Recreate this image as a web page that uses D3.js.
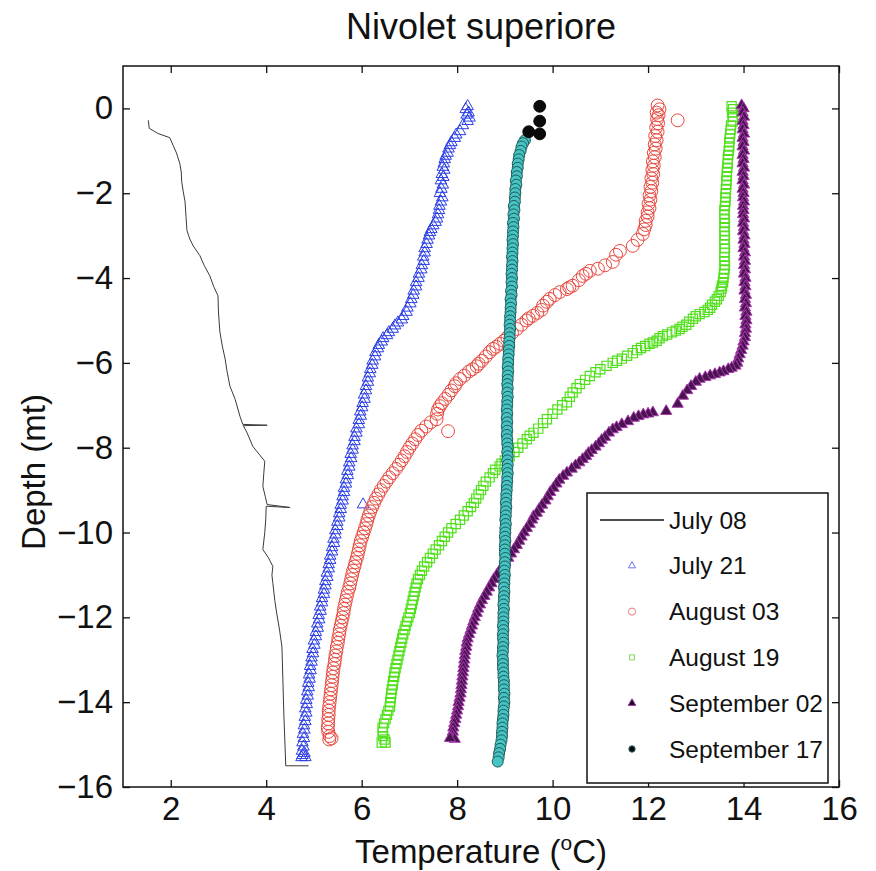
<!DOCTYPE html>
<html>
<head>
<meta charset="utf-8">
<script src="https://cdn.jsdelivr.net/npm/d3@7"></script>
<style>
  body { margin: 0; background: #fff; }
  text { font-family: "Liberation Sans", Arial, sans-serif; fill: #111; }
</style>
</head>
<body>
<script>
// Nivolet superiore - temperature profiles, each point is [temperature, depth]
var xTicks = [2, 4, 6, 8, 10, 12, 14, 16];
var yTicks = [0, -2, -4, -6, -8, -10, -12, -14, -16];
var legendLabels = ["July 08", "July 21", "August 03", "August 19", "September 02", "September 17"];

var july08 = [[1.53,-0.28],[1.55,-0.47],[1.73,-0.59],[1.98,-0.69],[2.05,-0.87],[2.12,-1.05],[2.19,-1.3],[2.22,-1.5],
  [2.23,-1.73],[2.26,-1.95],[2.3,-2.2],[2.32,-2.55],[2.34,-2.88],[2.4,-3.08],[2.47,-3.24],[2.61,-3.47],[2.7,-3.7],
  [2.82,-3.95],[2.9,-4.2],[2.99,-4.42],[3.0,-4.8],[3.03,-5.27],[3.08,-5.6],[3.14,-5.91],[3.18,-6.2],[3.24,-6.55],
  [3.35,-6.86],[3.45,-7.26],[3.51,-7.45],[4.02,-7.47],[3.52,-7.48],[3.6,-7.65],[3.72,-7.97],[3.85,-8.15],[3.97,-8.32],
  [3.95,-8.6],[3.93,-8.91],[3.98,-9.15],[4.02,-9.34],[4.5,-9.41],[4.0,-9.38],[3.99,-9.7],[3.97,-10.0],[3.93,-10.4],
  [4.05,-10.6],[4.14,-10.8],[4.12,-11.0],[4.14,-11.2],[4.18,-11.6],[4.22,-11.9],[4.28,-12.3],[4.33,-12.7],
  [4.35,-13.5],[4.37,-14.3],[4.41,-15.5],[4.89,-15.5]];

var july21 = [[8.22,0.05],[8.18,-0.02],[8.24,-0.1],[8.2,-0.15],[8.26,-0.22],[8.22,-0.3],[8.12,-0.4],[8.06,-0.54],
  [7.98,-0.62],[7.95,-0.7],[7.88,-0.8],[7.85,-0.87],[7.82,-0.95],[7.8,-1.05],[7.76,-1.12],[7.74,-1.2],[7.72,-1.3],
  [7.7,-1.38],[7.73,-1.45],[7.68,-1.55],[7.71,-1.62],[7.66,-1.7],[7.7,-1.8],[7.67,-1.9],[7.64,-2.0],[7.69,-2.1],
  [7.66,-2.2],[7.63,-2.3],[7.62,-2.4],[7.6,-2.5],[7.58,-2.6],[7.55,-2.68],[7.5,-2.76],[7.46,-2.85],[7.43,-2.92],
  [7.41,-3.0],[7.38,-3.1],[7.36,-3.2],[7.32,-3.3],[7.32,-3.4],[7.29,-3.5],[7.3,-3.6],[7.26,-3.7],[7.25,-3.8],
  [7.2,-3.9],[7.19,-4.0],[7.14,-4.1],[7.14,-4.2],[7.09,-4.3],[7.08,-4.4],[7.04,-4.5],[7.02,-4.6],[6.96,-4.7],
  [6.94,-4.8],[6.87,-4.9],[6.84,-4.98],[6.76,-5.05],[6.7,-5.12],[6.65,-5.2],[6.57,-5.28],[6.53,-5.35],[6.45,-5.42],
  [6.42,-5.5],[6.36,-5.58],[6.34,-5.66],[6.29,-5.75],[6.28,-5.85],[6.23,-5.95],[6.22,-6.05],[6.18,-6.15],
  [6.17,-6.25],[6.13,-6.35],[6.13,-6.45],[6.09,-6.55],[6.09,-6.65],[6.05,-6.75],[6.06,-6.85],[6.02,-6.95],
  [6.01,-7.05],[5.97,-7.15],[5.98,-7.25],[5.94,-7.35],[5.94,-7.45],[5.89,-7.55],[5.89,-7.65],[5.85,-7.75],
  [5.85,-7.85],[5.81,-7.95],[5.81,-8.05],[5.77,-8.15],[5.78,-8.25],[5.74,-8.35],[5.74,-8.45],[5.7,-8.55],
  [5.71,-8.65],[5.67,-8.75],[5.67,-8.85],[5.63,-8.95],[5.63,-9.05],[5.6,-9.15],[5.6,-9.25],[5.56,-9.35],
  [6.03,-9.34],[5.56,-9.45],[5.53,-9.55],[5.53,-9.65],[5.49,-9.75],[5.49,-9.85],[5.45,-9.95],[5.45,-10.05],
  [5.41,-10.15],[5.42,-10.25],[5.38,-10.35],[5.38,-10.45],[5.34,-10.55],[5.34,-10.65],[5.31,-10.75],[5.31,-10.85],
  [5.27,-10.95],[5.28,-11.05],[5.24,-11.15],[5.24,-11.25],[5.21,-11.35],[5.21,-11.45],[5.17,-11.55],[5.17,-11.65],
  [5.13,-11.75],[5.14,-11.85],[5.1,-11.95],[5.11,-12.05],[5.07,-12.15],[5.08,-12.25],[5.04,-12.35],[5.04,-12.45],
  [5.0,-12.55],[5.01,-12.65],[4.97,-12.75],[4.98,-12.85],[4.95,-12.95],[4.95,-13.05],[4.92,-13.15],[4.93,-13.25],
  [4.9,-13.35],[4.91,-13.45],[4.88,-13.55],[4.89,-13.65],[4.86,-13.75],[4.87,-13.85],[4.84,-13.95],[4.85,-14.05],
  [4.82,-14.15],[4.84,-14.25],[4.81,-14.35],[4.82,-14.45],[4.79,-14.55],[4.8,-14.65],[4.77,-14.75],[4.79,-14.85],
  [4.76,-14.95],[4.78,-15.05],[4.75,-15.15],[4.8,-15.2],[4.76,-15.25],[4.82,-15.3],[4.74,-15.3]];

var aug03 = [[12.2,0.07],[12.24,-0.02],[12.18,-0.1],[12.22,-0.16],[12.62,-0.28],[12.19,-0.25],[12.21,-0.35],
  [12.17,-0.45],[12.2,-0.55],[12.15,-0.65],[12.18,-0.75],[12.14,-0.85],[12.16,-0.95],[12.12,-1.05],[12.14,-1.15],
  [12.1,-1.25],[12.12,-1.35],[12.09,-1.45],[12.11,-1.55],[12.07,-1.65],[12.09,-1.75],[12.05,-1.85],[12.07,-1.95],
  [12.03,-2.05],[12.05,-2.15],[12.01,-2.25],[12.03,-2.35],[11.99,-2.45],[11.99,-2.55],[11.95,-2.65],[11.95,-2.75],
  [11.92,-2.85],[11.89,-2.96],[11.78,-3.1],[11.68,-3.24],[11.41,-3.36],[11.33,-3.45],[11.26,-3.62],[11.1,-3.7],
  [10.95,-3.78],[10.78,-3.83],[10.7,-3.9],[10.63,-3.95],[10.55,-4.05],[10.42,-4.18],[10.35,-4.22],[10.3,-4.26],
  [10.15,-4.33],[10.05,-4.4],[9.94,-4.49],[9.88,-4.56],[9.8,-4.65],[9.77,-4.75],[9.68,-4.82],[9.59,-4.89],
  [9.5,-4.95],[9.45,-5.0],[9.35,-5.1],[9.25,-5.2],[9.15,-5.3],[9.05,-5.4],[8.98,-5.48],[8.9,-5.55],[8.82,-5.62],
  [8.75,-5.67],[8.68,-5.75],[8.6,-5.85],[8.52,-5.95],[8.45,-6.02],[8.41,-6.08],[8.32,-6.15],[8.25,-6.2],
  [8.15,-6.3],[8.06,-6.38],[7.98,-6.48],[7.95,-6.55],[7.88,-6.65],[7.82,-6.75],[7.75,-6.85],[7.68,-6.95],
  [7.64,-7.02],[7.6,-7.1],[7.58,-7.2],[7.57,-7.33],[7.81,-7.61],[7.45,-7.4],[7.35,-7.5],[7.25,-7.6],[7.18,-7.7],
  [7.12,-7.8],[7.06,-7.9],[7.0,-8.0],[6.95,-8.1],[6.9,-8.2],[6.84,-8.3],[6.78,-8.4],[6.72,-8.5],[6.65,-8.6],
  [6.58,-8.7],[6.52,-8.8],[6.46,-8.9],[6.4,-9.0],[6.35,-9.1],[6.3,-9.2],[6.26,-9.3],[6.22,-9.4],[6.18,-9.5],
  [6.15,-9.6],[6.12,-9.7],[6.1,-9.8],[6.07,-9.9],[6.04,-10.0],[6.01,-10.1],[5.98,-10.2],[5.96,-10.3],[5.94,-10.4],
  [5.92,-10.5],[5.9,-10.6],[5.87,-10.7],[5.85,-10.8],[5.82,-10.9],[5.8,-11.0],[5.78,-11.1],[5.76,-11.2],
  [5.74,-11.3],[5.71,-11.4],[5.69,-11.5],[5.67,-11.6],[5.65,-11.7],[5.63,-11.8],[5.62,-11.9],[5.6,-12.0],
  [5.58,-12.1],[5.56,-12.2],[5.54,-12.3],[5.53,-12.4],[5.51,-12.5],[5.5,-12.6],[5.48,-12.7],[5.47,-12.8],
  [5.45,-12.9],[5.44,-13.0],[5.43,-13.1],[5.41,-13.2],[5.4,-13.3],[5.39,-13.4],[5.38,-13.5],[5.37,-13.6],
  [5.36,-13.7],[5.35,-13.8],[5.34,-13.9],[5.33,-14.0],[5.32,-14.1],[5.31,-14.2],[5.31,-14.3],[5.3,-14.4],
  [5.3,-14.5],[5.29,-14.6],[5.3,-14.7],[5.33,-14.8],[5.37,-14.85],[5.32,-14.88]];

var aug19 = [[13.75,0.05],[13.78,-0.02],[13.76,-0.1],[13.78,-0.2],[13.77,-0.31],[13.74,-0.4],[13.73,-0.5],
  [13.72,-0.6],[13.71,-0.71],[13.7,-0.8],[13.7,-0.9],[13.69,-1.0],[13.68,-1.1],[13.67,-1.2],[13.67,-1.3],
  [13.66,-1.4],[13.65,-1.5],[13.65,-1.6],[13.64,-1.7],[13.64,-1.8],[13.63,-1.9],[13.63,-2.0],[13.62,-2.1],
  [13.62,-2.2],[13.61,-2.3],[13.6,-2.4],[13.6,-2.5],[13.6,-2.6],[13.61,-2.7],[13.6,-2.8],[13.6,-2.9],[13.61,-3.0],
  [13.6,-3.1],[13.6,-3.2],[13.61,-3.3],[13.6,-3.4],[13.6,-3.5],[13.6,-3.6],[13.61,-3.7],[13.6,-3.8],[13.59,-3.9],
  [13.58,-4.0],[13.57,-4.1],[13.55,-4.18],[13.54,-4.25],[13.52,-4.33],[13.48,-4.42],[13.44,-4.5],[13.4,-4.56],
  [13.34,-4.63],[13.3,-4.7],[13.25,-4.75],[13.18,-4.8],[13.08,-4.85],[13.0,-4.9],[12.94,-4.96],[12.86,-5.03],
  [12.8,-5.1],[12.72,-5.15],[12.66,-5.2],[12.58,-5.24],[12.5,-5.28],[12.4,-5.33],[12.31,-5.37],[12.24,-5.42],
  [12.18,-5.48],[12.1,-5.52],[12.03,-5.55],[11.94,-5.6],[11.85,-5.65],[11.77,-5.7],[11.68,-5.77],[11.56,-5.83],
  [11.45,-5.9],[11.35,-5.95],[11.26,-6.0],[11.13,-6.07],[11.0,-6.15],[10.9,-6.22],[10.78,-6.31],[10.68,-6.4],
  [10.57,-6.5],[10.5,-6.6],[10.42,-6.7],[10.36,-6.8],[10.3,-6.93],[10.2,-7.0],[10.1,-7.1],[10.0,-7.2],[9.88,-7.33],
  [9.8,-7.42],[9.7,-7.55],[9.6,-7.65],[9.52,-7.72],[9.46,-7.8],[9.37,-7.9],[9.28,-8.0],[9.2,-8.1],[9.1,-8.2],
  [9.0,-8.3],[8.93,-8.38],[8.89,-8.44],[8.8,-8.52],[8.75,-8.6],[8.68,-8.7],[8.6,-8.8],[8.55,-8.9],[8.5,-9.0],
  [8.45,-9.1],[8.4,-9.2],[8.35,-9.3],[8.29,-9.4],[8.22,-9.5],[8.14,-9.6],[8.06,-9.7],[7.97,-9.8],[7.88,-9.9],
  [7.81,-10.0],[7.74,-10.1],[7.68,-10.2],[7.62,-10.3],[7.55,-10.4],[7.49,-10.5],[7.43,-10.6],[7.37,-10.7],
  [7.31,-10.8],[7.26,-10.9],[7.22,-11.0],[7.18,-11.1],[7.15,-11.2],[7.13,-11.3],[7.11,-11.4],[7.09,-11.5],
  [7.07,-11.6],[7.05,-11.7],[7.03,-11.8],[7.01,-11.9],[6.98,-12.0],[6.95,-12.1],[6.92,-12.2],[6.9,-12.3],
  [6.87,-12.4],[6.85,-12.5],[6.83,-12.6],[6.81,-12.7],[6.79,-12.8],[6.77,-12.9],[6.75,-13.0],[6.73,-13.1],
  [6.71,-13.2],[6.69,-13.3],[6.68,-13.4],[6.66,-13.5],[6.65,-13.6],[6.63,-13.7],[6.62,-13.8],[6.61,-13.9],
  [6.6,-14.0],[6.59,-14.1],[6.56,-14.2],[6.53,-14.3],[6.5,-14.4],[6.47,-14.5],[6.44,-14.6],[6.44,-14.7],
  [6.45,-14.8],[6.48,-14.88],[6.5,-14.95],[6.42,-14.95]];

var sep02 = [[13.96,0.07],[14.0,0.0],[13.98,-0.1],[14.01,-0.2],[13.98,-0.3],[14.0,-0.4],[13.98,-0.5],[14.01,-0.6],
  [13.98,-0.7],[14.0,-0.8],[13.98,-0.9],[14.01,-1.0],[13.98,-1.1],[14.0,-1.2],[13.98,-1.3],[14.01,-1.4],
  [13.98,-1.5],[14.0,-1.6],[13.98,-1.7],[14.01,-1.8],[13.98,-1.9],[14.0,-2.0],[13.99,-2.1],[14.01,-2.2],
  [13.99,-2.3],[14.0,-2.4],[13.99,-2.5],[14.01,-2.6],[13.99,-2.7],[14.01,-2.8],[13.99,-2.9],[14.02,-3.0],
  [14.0,-3.1],[14.02,-3.2],[14.0,-3.3],[14.03,-3.4],[14.01,-3.5],[14.03,-3.6],[14.01,-3.7],[14.03,-3.8],
  [14.01,-3.9],[14.04,-4.0],[14.02,-4.1],[14.04,-4.2],[14.02,-4.3],[14.05,-4.4],[14.03,-4.5],[14.05,-4.6],
  [14.03,-4.7],[14.06,-4.8],[14.04,-4.9],[14.06,-5.0],[14.04,-5.1],[14.05,-5.2],[14.03,-5.3],[14.03,-5.4],
  [14.0,-5.5],[13.98,-5.6],[13.95,-5.7],[13.92,-5.8],[13.89,-5.9],[13.87,-6.0],[13.83,-6.07],[13.75,-6.12],
  [13.68,-6.15],[13.58,-6.2],[13.5,-6.23],[13.4,-6.27],[13.3,-6.3],[13.2,-6.34],[13.08,-6.38],[13.0,-6.45],
  [12.9,-6.55],[12.82,-6.65],[12.73,-6.78],[12.62,-6.97],[12.38,-7.14],[12.1,-7.17],[12.0,-7.2],[11.9,-7.22],
  [11.8,-7.26],[11.7,-7.3],[11.58,-7.38],[11.45,-7.45],[11.34,-7.52],[11.26,-7.57],[11.18,-7.65],[11.1,-7.75],
  [11.03,-7.82],[10.97,-7.9],[10.9,-7.98],[10.82,-8.06],[10.75,-8.13],[10.7,-8.2],[10.63,-8.27],[10.56,-8.35],
  [10.48,-8.42],[10.4,-8.5],[10.3,-8.59],[10.22,-8.67],[10.14,-8.76],[10.08,-8.85],[10.02,-8.95],[9.95,-9.05],
  [9.9,-9.15],[9.85,-9.25],[9.78,-9.35],[9.72,-9.45],[9.67,-9.54],[9.6,-9.62],[9.57,-9.7],[9.52,-9.8],
  [9.46,-9.9],[9.4,-10.0],[9.35,-10.1],[9.3,-10.2],[9.25,-10.3],[9.19,-10.4],[9.13,-10.5],[9.07,-10.6],
  [9.01,-10.7],[8.95,-10.8],[8.89,-10.9],[8.83,-11.0],[8.77,-11.1],[8.72,-11.2],[8.67,-11.3],[8.62,-11.4],
  [8.57,-11.5],[8.52,-11.6],[8.48,-11.7],[8.44,-11.8],[8.41,-11.9],[8.37,-12.0],[8.34,-12.1],[8.31,-12.2],
  [8.28,-12.3],[8.25,-12.4],[8.22,-12.5],[8.2,-12.6],[8.19,-12.7],[8.17,-12.8],[8.16,-12.9],[8.15,-13.0],
  [8.14,-13.1],[8.13,-13.2],[8.12,-13.3],[8.11,-13.4],[8.1,-13.5],[8.09,-13.6],[8.08,-13.7],[8.07,-13.8],
  [8.05,-13.9],[8.03,-14.0],[8.02,-14.1],[8.0,-14.2],[7.98,-14.3],[7.96,-14.4],[7.94,-14.5],[7.92,-14.6],
  [7.91,-14.7],[7.9,-14.8],[7.88,-14.85],[7.95,-14.87],[7.85,-14.85]];

var sep17Top = [[9.73,0.05],[9.73,-0.3],[9.5,-0.55],[9.73,-0.6]];
var sep17 = [[9.42,-0.75],[9.38,-0.82],[9.35,-0.9],[9.33,-1.0],[9.3,-1.1],[9.29,-1.2],[9.27,-1.3],[9.27,-1.4],
  [9.25,-1.5],[9.25,-1.6],[9.23,-1.7],[9.24,-1.8],[9.22,-1.9],[9.22,-2.0],[9.21,-2.1],[9.21,-2.2],[9.19,-2.3],
  [9.2,-2.4],[9.18,-2.5],[9.19,-2.6],[9.17,-2.7],[9.18,-2.8],[9.17,-2.9],[9.17,-3.0],[9.16,-3.1],[9.17,-3.2],
  [9.16,-3.3],[9.16,-3.4],[9.15,-3.5],[9.16,-3.6],[9.15,-3.7],[9.15,-3.8],[9.14,-3.9],[9.15,-4.0],[9.14,-4.1],
  [9.15,-4.2],[9.13,-4.3],[9.14,-4.4],[9.12,-4.5],[9.13,-4.6],[9.12,-4.7],[9.12,-4.8],[9.11,-4.9],[9.11,-5.0],
  [9.1,-5.1],[9.11,-5.2],[9.1,-5.3],[9.1,-5.4],[9.09,-5.5],[9.09,-5.6],[9.08,-5.7],[9.08,-5.8],[9.07,-5.9],
  [9.07,-6.0],[9.06,-6.1],[9.07,-6.2],[9.06,-6.3],[9.06,-6.4],[9.05,-6.5],[9.06,-6.6],[9.05,-6.7],[9.06,-6.8],
  [9.05,-6.9],[9.05,-7.0],[9.04,-7.1],[9.05,-7.2],[9.04,-7.3],[9.05,-7.4],[9.04,-7.5],[9.05,-7.6],[9.04,-7.7],
  [9.05,-7.8],[9.05,-7.9],[9.06,-8.0],[9.05,-8.1],[9.06,-8.2],[9.05,-8.3],[9.06,-8.4],[9.05,-8.5],[9.06,-8.6],
  [9.05,-8.7],[9.05,-8.8],[9.04,-8.9],[9.04,-9.0],[9.03,-9.1],[9.03,-9.2],[9.02,-9.3],[9.03,-9.4],[9.02,-9.5],
  [9.02,-9.6],[9.01,-9.7],[9.02,-9.8],[9.01,-9.9],[9.01,-10.0],[9.0,-10.1],[9.01,-10.2],[9.0,-10.3],[9.0,-10.4],
  [9.0,-10.5],[9.01,-10.6],[9.0,-10.7],[9.0,-10.8],[8.99,-10.9],[9.0,-11.0],[8.99,-11.1],[8.99,-11.2],
  [8.98,-11.3],[8.99,-11.4],[8.98,-11.5],[8.98,-11.6],[8.97,-11.7],[8.98,-11.8],[8.97,-11.9],[8.97,-12.0],
  [8.97,-12.1],[8.96,-12.2],[8.97,-12.3],[8.96,-12.4],[8.96,-12.5],[8.97,-12.6],[8.96,-12.7],[8.96,-12.8],
  [8.95,-12.9],[8.96,-13.0],[8.96,-13.1],[8.96,-13.2],[8.97,-13.3],[8.97,-13.4],[8.98,-13.5],[8.98,-13.6],
  [8.98,-13.7],[8.99,-13.8],[8.98,-13.9],[8.99,-14.0],[8.98,-14.1],[8.97,-14.2],[8.97,-14.3],[8.96,-14.4],
  [8.95,-14.5],[8.95,-14.6],[8.94,-14.7],[8.94,-14.8],[8.93,-14.9],[8.91,-15.0],[8.9,-15.1],[8.88,-15.2],
  [8.87,-15.3],[8.85,-15.4]];

(function() {

var width = 876, height = 871;
var mLeft = 123, mRight = 839, mTop = 66, mBottom = 787;
var fontFam = "Liberation Sans, Arial, sans-serif";

var svg = d3.select("body").append("svg")
  .attr("width", width)
  .attr("height", height);

var x = d3.scaleLinear().domain([1, 16]).range([mLeft, mRight]);
var y = d3.scaleLinear().domain([-16, 1]).range([mBottom, mTop]);

var fmt = function(d) { return d < 0 ? "\u2212" + Math.abs(d) : "" + d; };

// axes, ticks pointing inward on all four sides
var gx = svg.append("g").attr("transform", "translate(0," + mBottom + ")")
  .call(d3.axisBottom(x).tickValues(xTicks).tickSize(-7).tickPadding(10).tickFormat(fmt));
svg.append("g").attr("transform", "translate(0," + mTop + ")")
  .call(d3.axisTop(x).tickValues(xTicks).tickSize(-7).tickFormat(""));
var gy = svg.append("g").attr("transform", "translate(" + mLeft + ",0)")
  .call(d3.axisLeft(y).tickValues(yTicks).tickSize(-7).tickPadding(10).tickFormat(fmt));
svg.append("g").attr("transform", "translate(" + mRight + ",0)")
  .call(d3.axisRight(y).tickValues(yTicks).tickSize(-7).tickFormat(""));

svg.selectAll(".domain").remove();
svg.selectAll(".tick line").attr("stroke", "#111").attr("stroke-width", 1.3);
gx.selectAll("text").attr("font-size", 33).attr("font-family", fontFam).attr("fill", "#111");
gy.selectAll("text").attr("font-size", 33).attr("font-family", fontFam).attr("fill", "#111");

svg.append("rect")
  .attr("x", mLeft).attr("y", mTop)
  .attr("width", mRight - mLeft).attr("height", mBottom - mTop)
  .attr("fill", "none").attr("stroke", "#111").attr("stroke-width", 1.5);

// July 08 line
svg.append("path")
  .datum(july08)
  .attr("fill", "none")
  .attr("stroke", "#3a3a3a")
  .attr("stroke-width", 1)
  .attr("d", d3.line().x(function(d) { return x(d[0]); }).y(function(d) { return y(d[1]); }));

var drawMarkers = function(data, type, size, fill, stroke, sw) {
  svg.append("g").selectAll("path")
    .data(data)
    .enter().append("path")
    .attr("transform", function(d) { return "translate(" + x(d[0]) + "," + y(d[1]) + ")"; })
    .attr("d", d3.symbol().type(type).size(size))
    .attr("fill", fill)
    .attr("stroke", stroke)
    .attr("stroke-width", sw);
};

drawMarkers(july21, d3.symbolTriangle, 58, "none", "#2b3ee6", 1);
drawMarkers(aug03, d3.symbolCircle, 130, "none", "#e8473d", 1);
drawMarkers(aug19, d3.symbolSquare, 85, "none", "#52e01c", 1.2);
drawMarkers(sep02, d3.symbolTriangle, 55, "#4a1450", "#a83aae", 1);
drawMarkers(sep17, d3.symbolCircle, 95, "#46c4c4", "#1f5a5a", 1);
drawMarkers(sep17Top, d3.symbolCircle, 110, "#0a0a0a", "#0a0a0a", 1);

// title and labels
svg.append("text")
  .attr("x", (mLeft + mRight) / 2).attr("y", 39)
  .attr("text-anchor", "middle").attr("font-size", 36)
  .text("Nivolet superiore");

var xl = svg.append("text")
  .attr("x", (mLeft + mRight) / 2).attr("y", 863)
  .attr("text-anchor", "middle").attr("font-size", 33);
xl.append("tspan").text("Temperature (");
xl.append("tspan").attr("font-size", 21).attr("dy", -13).text("o");
xl.append("tspan").attr("dy", 13).text("C)");

svg.append("text")
  .attr("transform", "translate(45,472) rotate(-90)")
  .attr("text-anchor", "middle").attr("font-size", 33)
  .text("Depth (mt)");

// legend
var lg = svg.append("g");
lg.append("rect")
  .attr("x", 587).attr("y", 493).attr("width", 241).attr("height", 290)
  .attr("fill", "#fff").attr("stroke", "#111").attr("stroke-width", 1.5);

var legendY = d3.scalePoint().domain(legendLabels).range([520, 749]);
var legendMarks = [
  null,
  { type: d3.symbolTriangle, size: 22, fill: "none", stroke: "#6a74e8" },
  { type: d3.symbolCircle, size: 40, fill: "none", stroke: "#e87a74" },
  { type: d3.symbolSquare, size: 26, fill: "none", stroke: "#7ed858" },
  { type: d3.symbolTriangle, size: 26, fill: "#1a0520", stroke: "#a040a8" },
  { type: d3.symbolCircle, size: 32, fill: "#0a0a0a", stroke: "#2a6a6a" }
];

lg.append("line")
  .attr("x1", 600).attr("x2", 664)
  .attr("y1", legendY(legendLabels[0])).attr("y2", legendY(legendLabels[0]))
  .attr("stroke", "#111").attr("stroke-width", 1.5);

legendLabels.forEach(function(l, i) {
  var m = legendMarks[i];
  if (m) {
    lg.append("path")
      .attr("transform", "translate(632," + legendY(l) + ")")
      .attr("d", d3.symbol().type(m.type).size(m.size))
      .attr("fill", m.fill).attr("stroke", m.stroke).attr("stroke-width", 1);
  }
  lg.append("text")
    .attr("x", 669).attr("y", legendY(l))
    .attr("dy", "0.35em").attr("font-size", 24.5)
    .text(l);
});

})();
</script>
</body>
</html>
